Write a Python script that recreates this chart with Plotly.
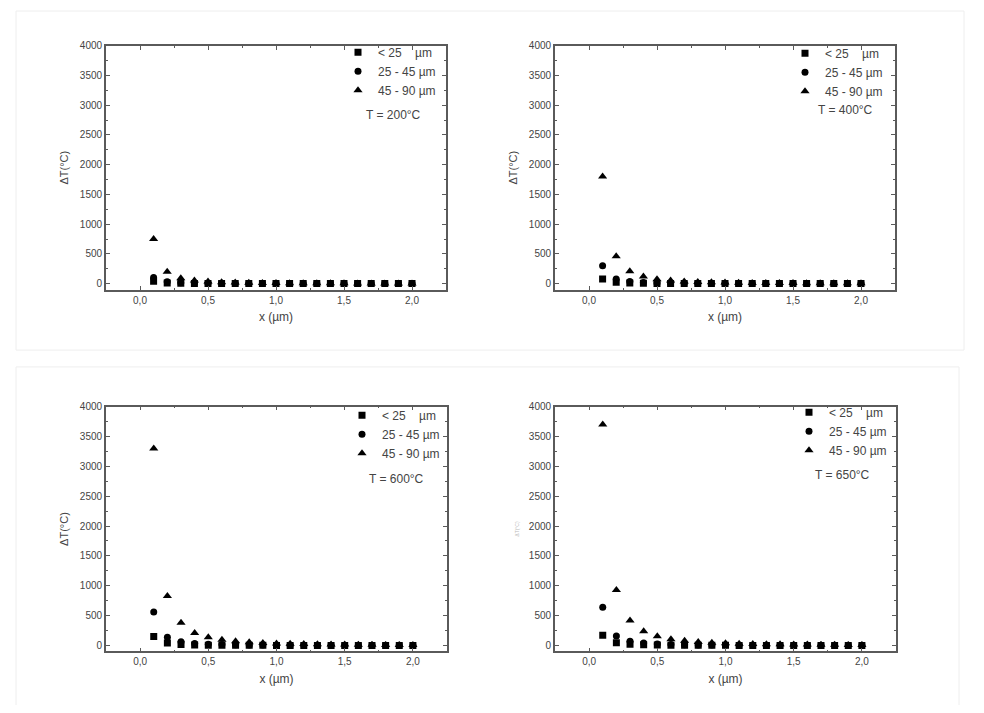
import plotly.graph_objects as go

# page body has an 8px margin, so the figure is 16px smaller than the window
OFF = 8
W, H = 984 - 2 * OFF, 713 - 2 * OFF

x_um = [0.1, 0.2, 0.3, 0.4, 0.5, 0.6, 0.7, 0.8, 0.9, 1.0,
        1.1, 1.2, 1.3, 1.4, 1.5, 1.6, 1.7, 1.8, 1.9, 2.0]

temps = ["T = 200°C", "T = 400°C", "T = 600°C", "T = 650°C"]
size_labels = ["<\u00a025\u00a0\u00a0\u00a0\u00a0µm", "25 - 45 µm", "45 - 90 µm"]

# <25 µm
sq_200 = [40, 10, 5, 3, 2, 1, 1, 1, 1, 1, 1, 1, 1, 1, 1, 1, 1, 1, 1, 1]
sq_400 = [80, 22, 9, 5, 3, 2, 2, 1, 1, 1, 1, 1, 1, 1, 1, 1, 1, 1, 1, 1]
sq_600 = [150, 40, 17, 10, 6, 4, 3, 2, 2, 1, 1, 1, 1, 1, 1, 1, 1, 1, 1, 1]
sq_650 = [170, 45, 20, 11, 7, 5, 3, 3, 2, 2, 1, 1, 1, 1, 1, 1, 1, 1, 1, 1]
# 25-45 µm
ci_200 = [105, 30, 15, 9, 6, 5, 4, 3, 3, 2, 2, 2, 2, 1, 1, 1, 1, 1, 1, 1]
ci_400 = [300, 80, 35, 20, 13, 9, 7, 5, 4, 3, 3, 2, 2, 2, 2, 1, 1, 1, 1, 1]
ci_600 = [560, 140, 62, 35, 22, 15, 11, 9, 7, 6, 5, 4, 3, 3, 3, 2, 2, 2, 2, 1]
ci_650 = [640, 160, 72, 40, 26, 18, 13, 10, 8, 7, 6, 5, 4, 3, 3, 3, 2, 2, 2, 2]
# 45-90 µm
tr_200 = [750, 200, 90, 55, 35, 25, 18, 14, 11, 9, 8, 7, 6, 5, 5, 4, 4, 3, 3, 3]
tr_400 = [1800, 460, 210, 120, 75, 52, 38, 29, 23, 19, 15, 13, 11, 10, 9, 8, 7, 6, 6, 5]
tr_600 = [3300, 830, 380, 210, 140, 95, 70, 53, 42, 34, 28, 23, 20, 17, 15, 13, 12, 10, 9, 8]
tr_650 = [3700, 930, 420, 240, 155, 105, 78, 60, 47, 38, 31, 26, 22, 19, 17, 15, 13, 11, 10, 9]

panels = [
    (sq_200, ci_200, tr_200),
    (sq_400, ci_400, tr_400),
    (sq_600, ci_600, tr_600),
    (sq_650, ci_650, tr_650),
]

# plot-area boxes in window pixels: left, top, right, bottom
boxes = [(106, 40, 446, 286), (555, 40, 895, 286),
         (106, 404, 447, 651), (555, 404, 896, 651)]
# legend top-left and T label centre, window pixels
legend_pos = [(338, 32), (785, 33), (342, 398), (789, 395)]
tlabel_pos = [(393, 110), (845, 105), (396, 477), (842, 473)]

symbols = ["square", "circle", "triangle-up"]
sizes = [7, 7, 8]
AX = "#5a5a5a"
TXT = "#444444"
FONT = "Liberation Sans, Arial"


def px_x(v):
    return (v - OFF) / W


def px_y(v):
    return 1 - (v - OFF) / H


fig = go.Figure()
layout = {}
for i, series in enumerate(panels):
    n = "" if i == 0 else str(i + 1)
    leg = "legend" + n
    for name, ys, sym, sz in zip(size_labels, series, symbols, sizes):
        fig.add_trace(go.Scatter(
            x=x_um, y=ys, mode="markers", name=name,
            marker=dict(symbol=sym, size=sz, color="black"),
            xaxis="x" + n, yaxis="y" + n, legend=leg,
        ))
    l, t, r, b = boxes[i]
    common = dict(
        showline=True, linecolor=AX, linewidth=1.8, mirror="allticks",
        ticks="inside", ticklen=4, tickwidth=1, tickcolor=AX,
        showgrid=False, zeroline=False,
        tickfont=dict(family=FONT, size=10, color=TXT),
    )
    layout["xaxis" + n] = dict(
        common, domain=[px_x(l), px_x(r)], range=[-0.25, 2.25],
        anchor="y" + n, tickvals=[0, 0.5, 1.0, 1.5, 2.0], tickformat=".1f",
        minor=dict(ticks="inside", ticklen=2, tickcolor=AX, dtick=0.25),
        title=dict(text="x (µm)", standoff=8,
                   font=dict(family=FONT, size=12, color=TXT)),
    )
    ytitle_font = dict(family=FONT, size=11, color=TXT)
    if i == 3:
        ytitle_font = dict(family=FONT, size=5, color="#bbbbbb")
    layout["yaxis" + n] = dict(
        common, domain=[px_y(b), px_y(t)], range=[-100, 4000],
        anchor="x" + n, dtick=500,
        minor=dict(ticks="inside", ticklen=2, tickcolor=AX, dtick=250),
        title=dict(text="ΔT(°C)", standoff=9, font=ytitle_font),
    )
    lx, ly = legend_pos[i]
    layout[leg] = dict(
        x=px_x(lx), y=px_y(ly), xanchor="left", yanchor="top",
        bgcolor="rgba(0,0,0,0)", borderwidth=0, tracegroupgap=0,
        font=dict(family=FONT, size=12, color=TXT),
        itemwidth=30,
    )
    tx, ty = tlabel_pos[i]
    fig.add_annotation(
        x=px_x(tx), y=px_y(ty), xref="paper", yref="paper",
        xanchor="center", yanchor="middle",
        text=temps[i], showarrow=False,
        font=dict(family=FONT, size=12, color=TXT),
    )

# faint frames of the scanned figure rows
for x0, y0, x1, y1 in [(16, 5, 964, 347), (16, 364, 959, 708)]:
    fig.add_shape(type="rect", xref="paper", yref="paper",
                  x0=px_x(x0), x1=px_x(x1), y0=px_y(y1), y1=px_y(y0),
                  line=dict(color="#eeeeee", width=1))

fig.update_layout(
    layout,
    width=W, height=H,
    margin=dict(l=0, r=0, t=0, b=0),
    paper_bgcolor="white", plot_bgcolor="white",
    separators=",.",
    showlegend=True,
)

fig.write_html("out.html")
